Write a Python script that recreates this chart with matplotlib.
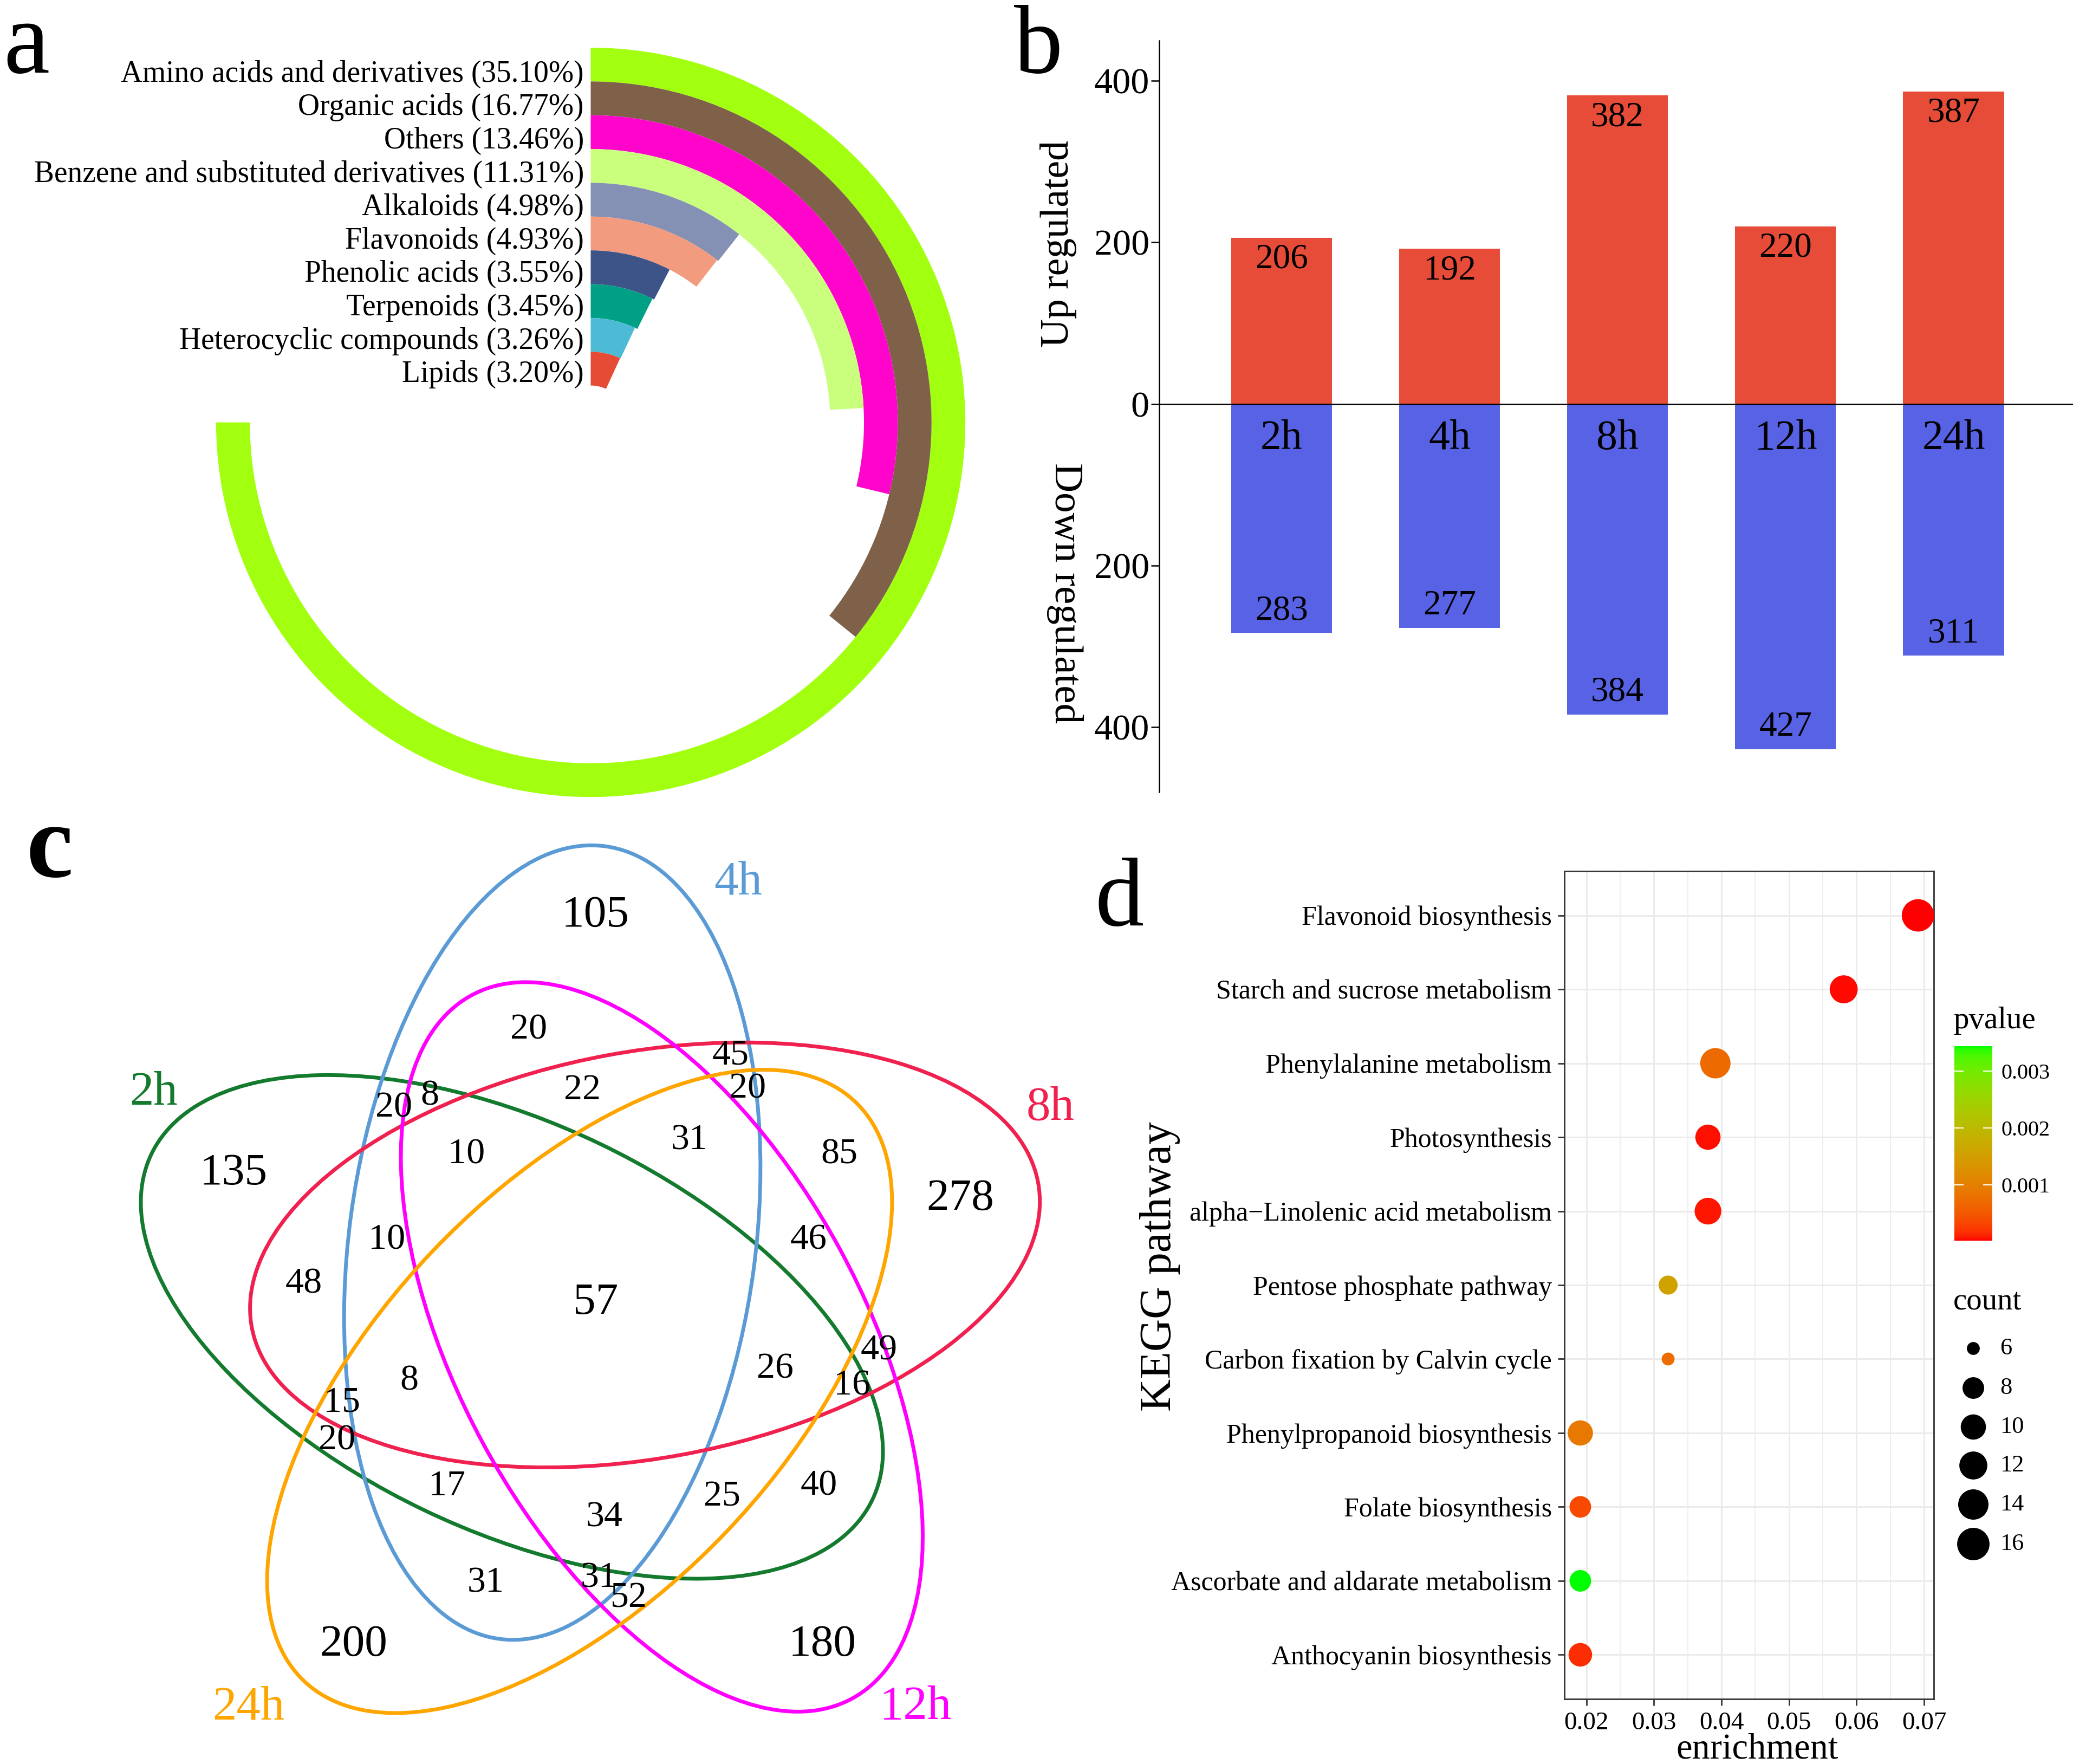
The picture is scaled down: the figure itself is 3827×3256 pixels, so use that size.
import numpy as np
import matplotlib
matplotlib.use('Agg')
import matplotlib.pyplot as plt
from matplotlib.patches import Wedge, Ellipse
from matplotlib.colors import ListedColormap

plt.rcParams['font.family'] = ['Liberation Serif', 'DejaVu Serif']

# ---------------- data ----------------
# panel a
class_names = ['Amino acids and derivatives', 'Organic acids', 'Others',
               'Benzene and substituted derivatives', 'Alkaloids', 'Flavonoids',
               'Phenolic acids', 'Terpenoids', 'Heterocyclic compounds', 'Lipids']
class_pct = [35.10, 16.77, 13.46, 11.31, 4.98, 4.93, 3.55, 3.45, 3.26, 3.20]
class_colors = ['#A3FF10', '#7E6148', '#FF05CC', '#CAFF7E', '#8491B4',
                '#F39B7F', '#3C5488', '#00A087', '#4DBBD5', '#E64B35']

# panel b
times = ['2h', '4h', '8h', '12h', '24h']
up_counts = [206, 192, 382, 220, 387]
down_counts = [283, 277, 384, 427, 311]

# panel c
venn_sets = ['2h', '4h', '8h', '12h', '24h']
venn_colors = ['#137A2E', '#5B9BD5', '#F0214F', '#FF00FF', '#FFA500']
venn_counts = [105, 20, 45, 20, 20, 8, 22, 31, 10, 85, 135, 278, 10, 46, 48, 57,
               49, 26, 8, 16, 15, 20, 17, 40, 25, 34, 31, 31, 52, 200, 180]

# panel d
pathways = ['Flavonoid biosynthesis', 'Starch and sucrose metabolism',
            'Phenylalanine metabolism', 'Photosynthesis',
            'alpha\u2212Linolenic acid metabolism', 'Pentose phosphate pathway',
            'Carbon fixation by Calvin cycle', 'Phenylpropanoid biosynthesis',
            'Folate biosynthesis', 'Ascorbate and aldarate metabolism',
            'Anthocyanin biosynthesis']
enrichment = [0.0691, 0.0581, 0.0391, 0.0380, 0.0380, 0.0321, 0.0321,
              0.0191, 0.0191, 0.0191, 0.0191]
path_counts = [16, 12, 14, 10, 11, 7, 6, 10, 8, 8, 9]
pvalues = [0.000015, 0.000032, 0.00070, 0.000050, 0.000066, 0.00156, 0.00073,
           0.00090, 0.00036, 0.00344, 0.00015]
count_breaks = [6, 8, 10, 12, 14, 16]
p_ticks = [0.001, 0.002, 0.003]

# ---------------- figure ----------------
W, H = 3827, 3256
DPI = 100
fig = plt.figure(figsize=(W / DPI, H / DPI), dpi=DPI)

def Y(y):
    return H - y

ax0 = fig.add_axes([0, 0, 1, 1])
ax0.set_xlim(0, W)
ax0.set_ylim(0, H)
ax0.axis('off')
ax0.set_zorder(5)

# ---------- panel a : radial bars ----------
acx, acy = 1090.5, Y(779.6)
r_in, r_out = 68.0, 691.6
n = len(class_pct)
w = (r_out - r_in) / n
pmax = max(class_pct)
for i, (nm, p, c) in enumerate(zip(class_names, class_pct, class_colors)):
    ro = r_in + (n - i) * w
    ext = p / pmax * 270.0
    ax0.add_patch(Wedge((acx, acy), ro, 90 - ext, 90, width=w,
                        facecolor=c, edgecolor='none', linewidth=0))
    ax0.text(1078, Y(150.5 + i * 61.6), f'{nm} ({p:.2f}%)', ha='right',
             va='baseline', fontsize=40)

ax0.text(6, Y(134), 'a', fontsize=138, ha='left', va='baseline')

# ---------- panel b : up/down bars ----------
axb = fig.add_axes([2140 / W, 1 - 1461.7 / H, 1 - 2140 / W, (1461.7 - 74.6) / H])
axb.patch.set_alpha(0)
xb = np.arange(len(times))
axb.bar(xb, up_counts, width=0.6, color='#E64C37', zorder=2)
axb.bar(xb, [-v for v in down_counts], width=0.6, color='#5762E5', zorder=2)
axb.axhline(0, color='black', lw=1.8, zorder=3)
for xi, u, d, t in zip(xb, up_counts, down_counts, times):
    axb.text(xi, u - 27, str(u), ha='center', va='center', fontsize=47, zorder=4)
    axb.text(xi, -(d - 27), str(d), ha='center', va='center', fontsize=47, zorder=4)
    axb.text(xi, -43, t, ha='center', va='center', fontsize=56, zorder=4)
axb.set_xlim(-0.7276, 4.711)
axb.set_ylim(-480, 450)
axb.set_yticks([-400, -200, 0, 200, 400])
axb.set_yticklabels(['400', '200', '0', '200', '400'], fontsize=49)
axb.set_xticks([])
for s in ['top', 'right', 'bottom']:
    axb.spines[s].set_visible(False)
axb.spines['left'].set_linewidth(1.8)
axb.tick_params(axis='y', length=11, width=1.8, pad=2)
ax0.text(1954, Y(450), 'Up regulated', rotation=90, ha='center', va='center', fontsize=53)
ax0.text(1966, Y(1095), 'Down regulated', rotation=270, ha='center', va='center', fontsize=54)
ax0.text(1872, Y(134), 'b', fontsize=130, ha='left', va='baseline')

# ---------- panel c : 5-set Venn ----------
vcx, vcy = 1089.4, Y(2422.7)
vdist, vA, vB = 146.8, 738.0, 375.0
for k, (nm, col) in zip([-1, 0, 1, 2, 3], zip(venn_sets, venn_colors)):
    phi = np.deg2rad(118.4 - 72 * k)
    theta = 82.4 - 72 * k
    ex = vcx + vdist * np.cos(phi)
    ey = vcy + vdist * np.sin(phi)
    ax0.add_patch(Ellipse((ex, ey), 2 * vA, 2 * vB, angle=theta, fill=False,
                          edgecolor=col, lw=5.0, zorder=2))

venn_label_xy = [(1099.5, 1690.4), (975.8, 1900.9), (1348.2, 1948.0), (1380.1, 2009.6),
                 (727.0, 2045.4), (793.4, 2023.0), (1075.2, 2012.9), (1273.0, 2104.7),
                 (861.0, 2130.5), (1549.7, 2130.5), (431.1, 2166.3), (1773.0, 2213.4),
                 (714.3, 2289.5), (1492.3, 2289.5), (561.2, 2370.2), (1099.5, 2404.9),
                 (1622.4, 2493.4), (1431.1, 2526.9), (755.1, 2549.3), (1572.7, 2558.3),
                 (631.4, 2588.5), (622.4, 2659.1), (825.3, 2743.1), (1511.5, 2743.1),
                 (1332.9, 2763.2), (1116.1, 2801.3), (896.7, 2922.3), (1105.9, 2913.3),
                 (1160.7, 2950.3), (653.1, 3036.5), (1517.8, 3036.5)]
big_idx = {0, 10, 11, 15, 29, 30}
for j, (v, (lx, ly)) in enumerate(zip(venn_counts, venn_label_xy)):
    fs = 60 if j in big_idx else 49
    ax0.text(lx, Y(ly), str(v), ha='center', va='center', fontsize=fs, zorder=3)

venn_set_xy = [(283.2, 2017.4), (1362.2, 1628.8), (1938.8, 2045.4), (1690.0, 3151.9),
               (459.2, 3151.9)]
for nm, col, (lx, ly) in zip(venn_sets, venn_colors, venn_set_xy):
    ax0.text(lx, Y(ly), nm, color=col, ha='center', va='center', fontsize=64)

ax0.text(48, Y(1617.6), 'c', fontsize=140, fontweight='bold', ha='left', va='baseline')

# ---------- panel d : KEGG bubble ----------
def _finv(t):
    return np.where(t > 6 / 29, t ** 3, 3 * (6 / 29) ** 2 * (t - 4 / 29))

def lab2rgb(L, a, b):
    fy = (L + 16) / 116
    fx = fy + a / 500
    fz = fy - b / 200
    X = 0.95047 * _finv(fx)
    Yv = _finv(fy)
    Z = 1.08883 * _finv(fz)
    M = np.array([[3.2406, -1.5372, -0.4986],
                  [-0.9689, 1.8758, 0.0415],
                  [0.0557, -0.2040, 1.0570]])
    rgb = M @ np.vstack([X, Yv, Z])
    rgb = np.clip(rgb, 0, 1)
    rgb = np.where(rgb <= 0.0031308, 12.92 * rgb, 1.055 * rgb ** (1 / 2.4) - 0.055)
    return np.clip(rgb.T, 0, 1)

tt = np.linspace(0, 1, 256)
lab_lo = np.array([53.24, 80.09, 67.20])
lab_hi = np.array([87.73, -86.18, 83.18])
labs = lab_lo[None, :] + tt[:, None] * (lab_hi - lab_lo)[None, :]
cmap = ListedColormap(lab2rgb(labs[:, 0], labs[:, 1], labs[:, 2]))

axd = fig.add_axes([2887.9 / W, 1 - 3136.3 / H, (3569.5 - 2887.9) / W, (3136.3 - 1607.7) / H])
ypos = np.arange(len(pathways))[::-1] + 1
diam_px = 23.8 + 11.38 * np.sqrt(np.array(path_counts) - 6.0)
sizes = (diam_px * 72 / DPI) ** 2
sc = axd.scatter(enrichment, ypos, s=sizes, c=pvalues, cmap=cmap,
                 vmin=min(pvalues), vmax=max(pvalues), linewidths=0, zorder=3)
axd.set_xlim(0.01673, 0.0714)
axd.set_ylim(0.4, 11.6)
axd.set_yticks(ypos)
axd.set_yticklabels(pathways, fontsize=36)
xt = [0.02, 0.03, 0.04, 0.05, 0.06, 0.07]
axd.set_xticks(xt)
axd.set_xticklabels([f'{v:.2f}' for v in xt], fontsize=34)
axd.set_xticks([0.025, 0.035, 0.045, 0.055, 0.065], minor=True)
axd.grid(True, which='major', color='#EBEBEB', lw=2.2, zorder=0)
axd.grid(True, which='minor', axis='x', color='#EBEBEB', lw=1.2, zorder=0)
axd.set_axisbelow(True)
axd.tick_params(which='major', length=8.6, width=2.0, color='#333333', pad=8)
axd.tick_params(which='minor', length=0)
for s in axd.spines.values():
    s.set_color('#333333')
    s.set_linewidth(2.0)

cax = fig.add_axes([3608 / W, 1 - 2289.8 / H, 70 / W, 359 / H])
cb = fig.colorbar(sc, cax=cax, ticks=p_ticks)
cb.outline.set_visible(False)
cb.ax.set_yticklabels([f'{v:.3f}' for v in p_ticks])
cax.tick_params(axis='y', direction='in', length=12, width=1.5, color='white',
                labelsize=29, pad=12, left=True, right=True, labelleft=False,
                labelright=True)
ax0.text(3606, Y(1884), 'pvalue', ha='left', va='center', fontsize=41)
ax0.text(3606, Y(2404), 'count', ha='left', va='center', fontsize=41)
leg_y = [2489, 2562, 2634, 2705, 2777, 2850]
leg_d = 23.8 + 11.38 * np.sqrt(np.array(count_breaks) - 6.0)
ax0.scatter([3643] * len(count_breaks), [Y(v) for v in leg_y],
            s=(leg_d * 72 / DPI) ** 2, color='black', linewidths=0)
for cbk, ly in zip(count_breaks, leg_y):
    ax0.text(3692, Y(ly), str(cbk), ha='left', va='center', fontsize=32)

ax0.text(2141, Y(2338), 'KEGG pathway', rotation=90, ha='center', va='center', fontsize=60)
ax0.text(3244, Y(3246), 'enrichment', ha='center', va='baseline', fontsize=48)
ax0.text(2022, Y(1708), 'd', fontsize=130, ha='left', va='baseline')

fig.savefig('out.png', dpi=DPI)
